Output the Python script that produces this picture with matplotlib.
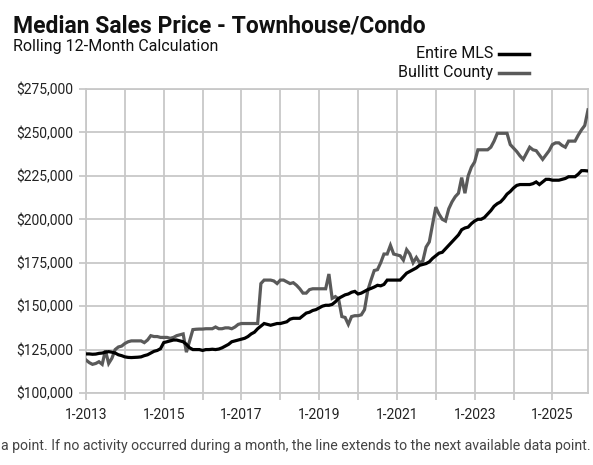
import matplotlib
matplotlib.use("Agg")
import matplotlib.pyplot as plt
import numpy as np
from matplotlib.ticker import FuncFormatter, FixedLocator

# ---------------- data ----------------
start_year = 2013
entire_mls = [
    122500, 122500, 122300, 122400, 122800, 123000, 123500, 123800, 123500, 123000, 122000, 121500,  # 2013
    120800, 120500, 120400, 120500, 120600, 120800, 121500, 122000, 123000, 124000, 124500, 125500,  # 2014
    129000, 129500, 130000, 130500, 130500, 130000, 129500, 128000, 126000, 125000, 125000, 125000,  # 2015
    124500, 125000, 125000, 125200, 125000, 125300, 126000, 127000, 128000, 129500, 130000, 130500,  # 2016
    131000, 131500, 132500, 134000, 135000, 137000, 138500, 140000, 139500, 139000, 139500, 140000,  # 2017
    140000, 140500, 141000, 142500, 143000, 143000, 143000, 144500, 146000, 146500, 147500, 148000,  # 2018
    149000, 150000, 150500, 150500, 151000, 152500, 154500, 155500, 156500, 157000, 158000, 158500,  # 2019
    157000, 157500, 158500, 159500, 160200, 161000, 162000, 161700, 162500, 165000, 165000, 165000,  # 2020
    165000, 165000, 167000, 169000, 170000, 171000, 172000, 173500, 174000, 174500, 175500, 177500,  # 2021
    179000, 180500, 181000, 183000, 185000, 187000, 189000, 191000, 194000, 195000, 195500, 197500,  # 2022
    199000, 200000, 200000, 201000, 203000, 205000, 207500, 209000, 210000, 212000, 214500, 216000,  # 2023
    218000, 219500, 220000, 220000, 220000, 220000, 220500, 221500, 220000, 221500, 223000, 223000,  # 2024
    222500, 222500, 222500, 223000, 223500, 224500, 224500, 224500, 226000, 228000, 228000, 227800,  # 2025
]
bullitt = [
    119000, 117500, 116500, 117000, 118000, 116500, 124500, 117000, 120000, 125000, 126500, 127000,  # 2013
    128500, 129500, 130000, 130000, 130000, 130000, 129000, 130500, 133000, 132500, 132500, 132000,  # 2014
    132000, 132000, 131500, 132000, 133000, 133500, 134000, 123500, 130000, 136500, 136700, 136800,  # 2015
    136800, 137000, 137000, 137000, 138000, 137000, 137000, 137500, 137500, 137000, 138000, 139500,  # 2016
    140000, 140000, 140000, 140000, 140000, 140000, 163000, 165000, 165000, 165000, 164500, 163000,  # 2017
    165000, 165000, 164000, 163000, 163500, 162000, 160000, 157500, 157500, 159500, 160000, 160000,  # 2018
    160000, 160000, 160000, 168500, 154500, 155500, 154000, 144000, 143500, 139500, 144000, 144500,  # 2019
    144500, 145000, 148000, 159000, 165000, 170500, 171000, 175000, 180000, 180000, 185000, 180000,  # 2020
    179500, 179000, 176500, 182500, 180000, 175000, 178000, 175000, 176000, 184000, 187000, 197000,  # 2021
    207000, 203000, 200000, 199000, 206000, 210000, 213000, 215000, 224000, 215000, 225000, 230000,  # 2022
    233000, 240000, 240000, 240000, 240000, 241500, 245000, 249500, 249500, 249500, 249500, 243000,  # 2023
    241000, 239000, 236500, 234500, 238000, 241500, 240000, 239500, 237000, 234500, 237000, 239500,  # 2024
    243000, 244000, 244000, 242500, 241500, 245000, 245000, 245000, 248500, 251500, 254000, 263000,  # 2025
]
series_names = ["Entire MLS", "Bullitt County"]
y_ticks = [100000, 125000, 150000, 175000, 200000, 225000, 250000, 275000]
grid_years = list(range(2013, 2026))
label_years = [2013, 2015, 2017, 2019, 2021, 2023, 2025]

title = "Median Sales Price - Townhouse/Condo"
subtitle = "Rolling 12-Month Calculation"
footnote = "a point. If no activity occurred during a month, the line extends to the next available data point."

# ---------------- plot ----------------
plt.rcParams['font.family'] = ['Roboto', 'DejaVu Sans']

fig = plt.figure(figsize=(5.93, 4.65), dpi=100)
ax = fig.add_axes([86/593, 72/465, (588-86)/593, (393-89)/465])

months = np.arange(len(entire_mls))
grid_col = '#c8c8c8'
ax.plot(months, bullitt, color='#5a5a5a', lw=2.3, solid_joinstyle='miter', zorder=3)
ax.plot(months, entire_mls, color='#000000', lw=2.3, solid_joinstyle='miter', zorder=4)

ax.set_xlim(0, len(entire_mls) - 1)
ax.set_ylim(100000, 275000)
ax.yaxis.set_major_locator(FixedLocator(y_ticks))
ax.yaxis.set_major_formatter(FuncFormatter(lambda v, p: f"${v:,.0f}"))
grid_pos = [(y - start_year) * 12 for y in grid_years]
ax.xaxis.set_major_locator(FixedLocator(grid_pos))
ax.set_xticklabels([f"1-{y}" if y in label_years else "" for y in grid_years])
ax.grid(True, color=grid_col, lw=1.3)
ax.set_axisbelow(True)
for s in ax.spines.values():
    s.set_color(grid_col)
    s.set_linewidth(1.3)
ax.tick_params(axis='both', color=grid_col, width=1.3, length=5, labelsize=10, labelcolor='#222222', pad=4)
ax.tick_params(axis='x', pad=6)

fig.text(13/593, 1 - 33/465, title, fontsize=16.5, fontweight='bold', color='#111111', ha='left', va='baseline')
fig.text(13/593, 1 - 51/465, subtitle, fontsize=11.5, color='#111111', ha='left', va='baseline')

# legend (manual, right aligned)
for i, (name, col) in enumerate(zip(series_names, ['#000000', '#5a5a5a'])):
    yb = 1 - (58 + 19 * i) / 465
    fig.text(493/593, yb, name, fontsize=11.5, color='#111111', ha='right', va='baseline')
    yl = yb + 4/465
    fig.add_artist(plt.Line2D([499/593, 529/593], [yl, yl], color=col, lw=2.5, transform=fig.transFigure))

fig.text(591/593, 1 - 450/465, footnote, fontsize=10.2, color='#444444', ha='right', va='baseline')

fig.savefig('out.png', dpi=100)
